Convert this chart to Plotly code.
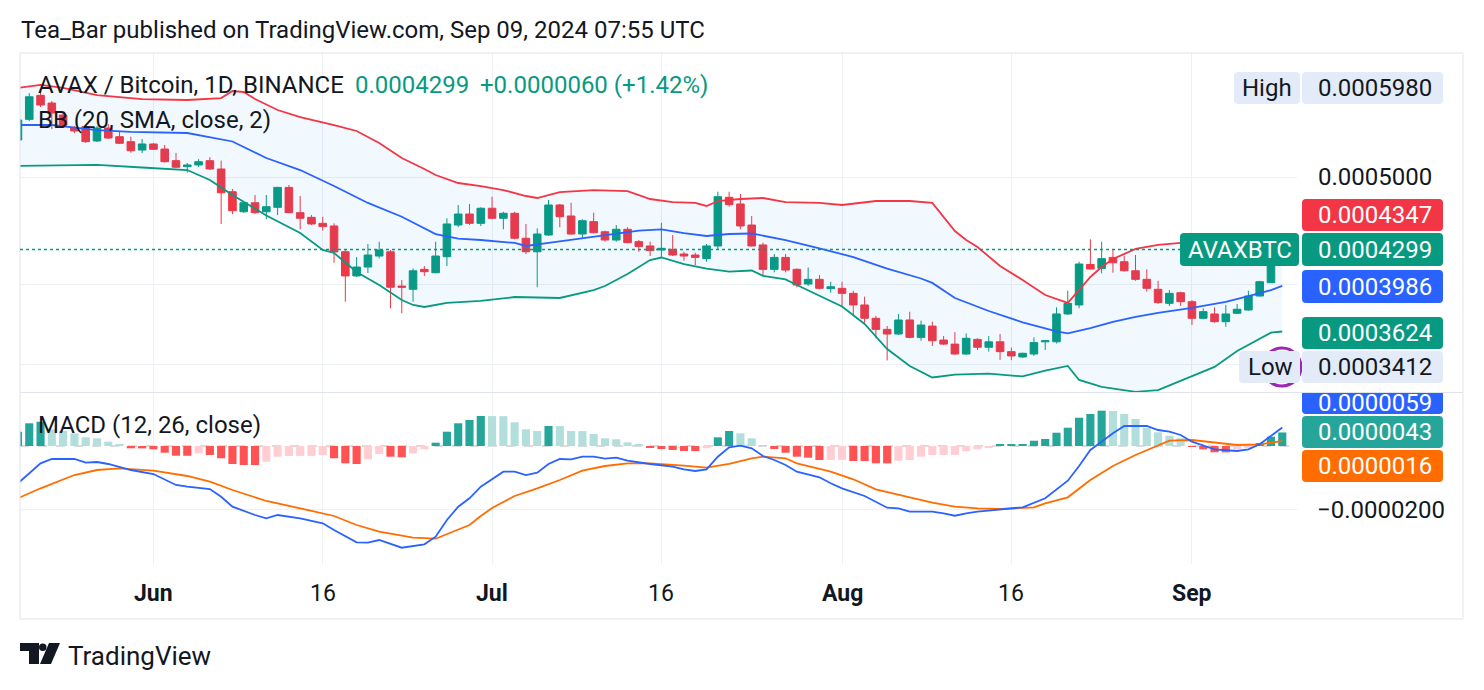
import plotly.graph_objects as go
import pandas as pd

W, H = 1484, 690
FONT = "Roboto, 'Open Sans', sans-serif"
TXT = "#131722"
UP = "#089981"
DN = "#F23645"
BLUE = "#2962FF"
ORANGE = "#FF6D00"
GRID = "#edf0f5"
BORDER = "#e0e3eb"
LIGHT = "#e3ebf8"
FS = 24

# ---------------- data ----------------
dates = pd.date_range("2024-05-20", "2024-09-09", freq="D")

open_ = [0.0005401, 0.0005638, 0.0005927, 0.0005833, 0.0005689, 0.0005537, 0.0005553, 0.0005390, 0.0005537, 0.0005438, 0.0005382, 0.0005289,
         0.0005356, 0.0005300, 0.0005173, 0.0005109, 0.0005127, 0.0005173, 0.0005084, 0.0004849, 0.0004651, 0.0004739,
         0.0004651, 0.0004694, 0.0004893, 0.0004642, 0.0004597, 0.0004540, 0.0004515, 0.0004279, 0.0004069, 0.0004145,
         0.0004241, 0.0004279, 0.0003984, 0.0003957, 0.0004125, 0.0004096, 0.0004235, 0.0004524, 0.0004629, 0.0004540,
         0.0004685, 0.0004588, 0.0004636, 0.0004401, 0.0004279, 0.0004431, 0.0004717, 0.0004610, 0.0004440, 0.0004556,
         0.0004461, 0.0004385, 0.0004484, 0.0004370, 0.0004331, 0.0004295, 0.0004301, 0.0004259, 0.0004250, 0.0004218,
         0.0004331, 0.0004793, 0.0004727, 0.0004524, 0.0004340, 0.0004125, 0.0004229, 0.0004125, 0.0004001, 0.0004040,
         0.0003962, 0.0003965, 0.0003924, 0.0003830, 0.0003725, 0.0003640, 0.0003605, 0.0003712, 0.0003580, 0.0003665,
         0.0003560, 0.0003530, 0.0003458, 0.0003565, 0.0003507, 0.0003547, 0.0003475, 0.0003437, 0.0003458, 0.0003547,
         0.0003547, 0.0003759, 0.0003830, 0.0004167, 0.0004133, 0.0004229, 0.0004191, 0.0004113, 0.0004040, 0.0003957,
         0.0003843, 0.0003929, 0.0003856, 0.0003725, 0.0003759, 0.0003699, 0.0003764, 0.0003790, 0.0003902, 0.0004012, 0.0004239]
high = [0.0005653, 0.0005955, 0.0005980, 0.0005858, 0.0005713, 0.0005560, 0.0005572, 0.0005560, 0.0005583, 0.0005491, 0.0005438, 0.0005412,
        0.0005367, 0.0005345, 0.0005256, 0.0005148, 0.0005190, 0.0005212, 0.0005173, 0.0004876, 0.0004746, 0.0004816,
        0.0004816, 0.0004899, 0.0004917, 0.0004806, 0.0004619, 0.0004603, 0.0004540, 0.0004295, 0.0004232, 0.0004349,
        0.0004369, 0.0004295, 0.0004034, 0.0004133, 0.0004153, 0.0004369, 0.0004588, 0.0004717, 0.0004727, 0.0004694,
        0.0004799, 0.0004651, 0.0004651, 0.0004534, 0.0004493, 0.0004766, 0.0004727, 0.0004739, 0.0004579, 0.0004642,
        0.0004471, 0.0004524, 0.0004503, 0.0004385, 0.0004370, 0.0004546, 0.0004431, 0.0004279, 0.0004270, 0.0004349,
        0.0004849, 0.0004849, 0.0004826, 0.0004610, 0.0004361, 0.0004259, 0.0004259, 0.0004133, 0.0004141, 0.0004077,
        0.0004020, 0.0004020, 0.0003945, 0.0003897, 0.0003744, 0.0003666, 0.0003759, 0.0003776, 0.0003707, 0.0003699,
        0.0003590, 0.0003619, 0.0003610, 0.0003573, 0.0003590, 0.0003605, 0.0003505, 0.0003467, 0.0003580, 0.0003556,
        0.0003811, 0.0003945, 0.0004191, 0.0004391, 0.0004369, 0.0004301, 0.0004241, 0.0004250, 0.0004125, 0.0004028,
        0.0003951, 0.0003937, 0.0003870, 0.0003803, 0.0003811, 0.0003830, 0.0003838, 0.0003945, 0.0004028, 0.0004250, 0.0004312]
low = [0.0005378, 0.0005618, 0.0005785, 0.0005525, 0.0005537, 0.0005480, 0.0005367, 0.0005378, 0.0005412, 0.0005356, 0.0005259, 0.0005256,
       0.0005289, 0.0005152, 0.0005095, 0.0005045, 0.0005106, 0.0005073, 0.0004534, 0.0004629, 0.0004639, 0.0004629,
       0.0004579, 0.0004619, 0.0004636, 0.0004484, 0.0004524, 0.0004471, 0.0004182, 0.0003856, 0.0004060, 0.0004094,
       0.0004220, 0.0003803, 0.0003764, 0.0003856, 0.0004069, 0.0004091, 0.0004153, 0.0004503, 0.0004524, 0.0004515,
       0.0004579, 0.0004484, 0.0004391, 0.0004259, 0.0003974, 0.0004422, 0.0004503, 0.0004435, 0.0004401, 0.0004446,
       0.0004370, 0.0004370, 0.0004355, 0.0004279, 0.0004241, 0.0004229, 0.0004241, 0.0004200, 0.0004162, 0.0004191,
       0.0004301, 0.0004700, 0.0004484, 0.0004325, 0.0004069, 0.0004099, 0.0004099, 0.0003974, 0.0003984, 0.0003957,
       0.0003929, 0.0003811, 0.0003744, 0.0003691, 0.0003573, 0.0003412, 0.0003598, 0.0003573, 0.0003555, 0.0003516,
       0.0003523, 0.0003451, 0.0003451, 0.0003487, 0.0003475, 0.0003416, 0.0003414, 0.0003430, 0.0003444, 0.0003487,
       0.0003535, 0.0003751, 0.0003804, 0.0004125, 0.0004091, 0.0004096, 0.0004105, 0.0004028, 0.0003937, 0.0003838,
       0.0003822, 0.0003822, 0.0003673, 0.0003717, 0.0003691, 0.0003660, 0.0003759, 0.0003785, 0.0003897, 0.0004009, 0.0004225]
close = [0.0005630, 0.0005910, 0.0005809, 0.0005713, 0.0005572, 0.0005503, 0.0005382, 0.0005537, 0.0005423, 0.0005364, 0.0005281, 0.0005356,
         0.0005297, 0.0005162, 0.0005103, 0.0005127, 0.0005162, 0.0005084, 0.0004838, 0.0004661, 0.0004739, 0.0004642,
         0.0004700, 0.0004893, 0.0004642, 0.0004588, 0.0004534, 0.0004509, 0.0004277, 0.0004069, 0.0004145, 0.0004250,
         0.0004295, 0.0003974, 0.0003974, 0.0004113, 0.0004105, 0.0004241, 0.0004534, 0.0004629, 0.0004540, 0.0004685,
         0.0004588, 0.0004636, 0.0004401, 0.0004279, 0.0004440, 0.0004717, 0.0004603, 0.0004440, 0.0004565, 0.0004452,
         0.0004385, 0.0004484, 0.0004361, 0.0004325, 0.0004289, 0.0004310, 0.0004250, 0.0004241, 0.0004229, 0.0004331,
         0.0004799, 0.0004720, 0.0004515, 0.0004331, 0.0004125, 0.0004229, 0.0004119, 0.0003993, 0.0004040, 0.0003965,
         0.0003978, 0.0003924, 0.0003830, 0.0003725, 0.0003640, 0.0003605, 0.0003712, 0.0003580, 0.0003673, 0.0003555,
         0.0003530, 0.0003458, 0.0003573, 0.0003507, 0.0003547, 0.0003475, 0.0003444, 0.0003463, 0.0003541, 0.0003555,
         0.0003759, 0.0003843, 0.0004171, 0.0004128, 0.0004218, 0.0004182, 0.0004113, 0.0004040, 0.0003965, 0.0003849,
         0.0003924, 0.0003856, 0.0003725, 0.0003777, 0.0003699, 0.0003759, 0.0003796, 0.0003902, 0.0004020, 0.0004239, 0.0004299]

bb_upper_dates = ["05-20", "05-22", "05-24", "05-27", "05-31", "06-04", "06-07", "06-08", "06-09", "06-10", "06-12", "06-14",
                  "06-17", "06-19", "06-21", "06-23", "06-25", "06-26", "06-28", "06-30", "07-02", "07-04", "07-05", "07-07",
                  "07-10", "07-13", "07-15", "07-17", "07-19", "07-20", "07-21", "07-23", "07-25", "07-27", "07-30", "08-01",
                  "08-04", "08-07", "08-09", "08-11", "08-12", "08-13", "08-15", "08-17", "08-19", "08-21", "08-22", "08-23",
                  "08-24", "08-25", "08-27", "08-29", "08-31", "09-02", "09-04", "09-06", "09-08", "09-09"]
bb_upper = [0.0006019, 0.0006057, 0.0006019, 0.0005931, 0.0005882, 0.0005870, 0.0005894, 0.0005981, 0.0005969, 0.0005882, 0.0005749, 0.0005665,
            0.0005572, 0.0005503, 0.0005367, 0.0005202, 0.0005084, 0.0005021, 0.0004938, 0.0004907, 0.0004866, 0.0004806, 0.0004786, 0.0004846,
            0.0004866, 0.0004856, 0.0004776, 0.0004746, 0.0004737, 0.0004707, 0.0004756, 0.0004776, 0.0004786, 0.0004746, 0.0004737, 0.0004717,
            0.0004756, 0.0004756, 0.0004737, 0.0004468, 0.0004385, 0.0004322, 0.0004154, 0.0004034, 0.0003910, 0.0003846, 0.0003951, 0.0004060,
            0.0004145, 0.0004215, 0.0004304, 0.0004340, 0.0004358, 0.0004367, 0.0004367, 0.0004367, 0.0004358, 0.0004347]

bb_basis_dates = ["05-20", "05-23", "05-27", "05-30", "06-04", "06-06", "06-08", "06-11", "06-14", "06-17", "06-20", "06-23",
                  "06-26", "06-28", "06-30", "07-03", "07-04", "07-06", "07-08", "07-11", "07-14", "07-16", "07-18", "07-20",
                  "07-22", "07-24", "07-27", "07-30", "08-02", "08-05", "08-08", "08-09", "08-11", "08-14", "08-17", "08-20",
                  "08-21", "08-23", "08-25", "08-27", "08-29", "09-01", "09-04", "09-06", "09-08", "09-09"]
bb_basis = [0.0005572, 0.0005572, 0.0005514, 0.0005494, 0.0005480, 0.0005435, 0.0005384, 0.0005202, 0.0005073, 0.0004907, 0.0004737, 0.0004603,
            0.0004440, 0.0004398, 0.0004385, 0.0004358, 0.0004331, 0.0004358, 0.0004385, 0.0004431, 0.0004472, 0.0004484, 0.0004449, 0.0004422,
            0.0004440, 0.0004445, 0.0004385, 0.0004310, 0.0004232, 0.0004132, 0.0004047, 0.0004010, 0.0003886, 0.0003782, 0.0003694, 0.0003625,
            0.0003610, 0.0003650, 0.0003697, 0.0003736, 0.0003767, 0.0003806, 0.0003854, 0.0003902, 0.0003951, 0.0003986]

bb_lower_dates = ["05-20", "05-24", "05-27", "05-31", "06-04", "06-06", "06-08", "06-11", "06-14", "06-16", "06-17", "06-19",
                  "06-21", "06-23", "06-24", "06-25", "06-27", "06-30", "07-03", "07-07", "07-10", "07-11", "07-13", "07-15",
                  "07-16", "07-18", "07-20", "07-22", "07-24", "07-25", "07-27", "07-28", "08-01", "08-03", "08-05", "08-07",
                  "08-09", "08-11", "08-14", "08-17", "08-19", "08-21", "08-22", "08-24", "08-27", "08-29", "09-01", "09-03",
                  "09-05", "09-07", "09-08", "09-09"]
bb_lower = [0.0005116, 0.0005122, 0.0005127, 0.0005100, 0.0005073, 0.0004969, 0.0004816, 0.0004615, 0.0004449, 0.0004295, 0.0004268, 0.0004102,
            0.0003993, 0.0003870, 0.0003830, 0.0003814, 0.0003846, 0.0003862, 0.0003894, 0.0003886, 0.0003951, 0.0003984, 0.0004085, 0.0004206,
            0.0004228, 0.0004171, 0.0004132, 0.0004106, 0.0004115, 0.0004069, 0.0004039, 0.0003993, 0.0003818, 0.0003681, 0.0003494, 0.0003373,
            0.0003293, 0.0003313, 0.0003320, 0.0003300, 0.0003340, 0.0003373, 0.0003276, 0.0003229, 0.0003196, 0.0003208, 0.0003300, 0.0003366,
            0.0003480, 0.0003567, 0.0003615, 0.0003624]

macd_dates = ["05-20", "05-21", "05-22", "05-23", "05-25", "05-26", "05-27", "05-28", "05-30", "06-01", "06-03", "06-04",
              "06-06", "06-07", "06-08", "06-10", "06-11", "06-12", "06-14", "06-16", "06-17", "06-19", "06-20", "06-21",
              "06-22", "06-23", "06-25", "06-26", "06-27", "06-28", "06-29", "06-30", "07-02", "07-03", "07-04", "07-05",
              "07-06", "07-07", "07-08", "07-09", "07-10", "07-11", "07-12", "07-13", "07-15", "07-17", "07-18", "07-19",
              "07-20", "07-21", "07-22", "07-23", "07-24", "07-25", "07-26", "07-27", "07-28", "07-30", "07-31", "08-01",
              "08-03", "08-05", "08-06", "08-07", "08-09", "08-10", "08-11", "08-12", "08-13", "08-15", "08-17", "08-19",
              "08-21", "08-22", "08-23", "08-25", "08-26", "08-28", "08-29", "08-30", "08-31", "09-01", "09-03", "09-05",
              "09-06", "09-07", "09-08", "09-09"]
macd_line = [-1.184e-05, -8.67e-06, -5.49e-06, -4.13e-06, -4.13e-06, -5.30e-06, -5.08e-06, -5.71e-06, -7.62e-06, -8.89e-06, -1.238e-05, -1.292e-05,
             -1.365e-05, -1.610e-05, -1.927e-05, -2.190e-05, -2.295e-05, -2.190e-05, -2.295e-05, -2.454e-05, -2.667e-05, -3.057e-05, -3.070e-05, -2.984e-05,
             -3.111e-05, -3.229e-05, -3.121e-05, -2.879e-05, -2.349e-05, -1.927e-05, -1.660e-05, -1.292e-05, -8.16e-06, -8.16e-06, -9.21e-06, -8.48e-06,
             -5.71e-06, -4.13e-06, -4.22e-06, -3.40e-06, -3.40e-06, -4.03e-06, -3.71e-06, -4.67e-06, -5.71e-06, -6.57e-06, -7.40e-06, -7.94e-06,
             -7.40e-06, -3.40e-06, -4.1e-07, 1.0e-07, -7.3e-07, -3.17e-06, -4.44e-06, -6.03e-06, -8.16e-06, -9.94e-06, -1.184e-05, -1.343e-05,
             -1.587e-05, -1.959e-05, -1.978e-05, -2.086e-05, -2.086e-05, -2.137e-05, -2.213e-05, -2.137e-05, -2.086e-05, -2.010e-05, -1.946e-05, -1.660e-05,
             -1.102e-05, -6.35e-06, -1.27e-06, 4.03e-06, 6.35e-06, 6.35e-06, 5.08e-06, 4.54e-06, 3.49e-06, 1.37e-06, -1.05e-06, -1.59e-06,
             -1.05e-06, 5.4e-07, 3.17e-06, 5.9e-06]

signal_dates = ["05-20", "05-22", "05-25", "05-27", "05-29", "06-01", "06-04", "06-06", "06-08", "06-11", "06-14", "06-17",
                "06-19", "06-21", "06-24", "06-26", "06-29", "06-30", "07-01", "07-03", "07-05", "07-07", "07-09", "07-11",
                "07-13", "07-15", "07-18", "07-20", "07-22", "07-24", "07-25", "07-27", "07-28", "07-31", "08-02", "08-04",
                "08-07", "08-09", "08-11", "08-13", "08-15", "08-18", "08-19", "08-21", "08-23", "08-25", "08-27", "08-29",
                "08-30", "09-01", "09-03", "09-05", "09-07", "09-09"]
signal_line = [-1.660e-05, -1.343e-05, -9.21e-06, -7.62e-06, -7.08e-06, -7.84e-06, -9.52e-06, -1.133e-05, -1.397e-05, -1.746e-05, -1.978e-05, -2.222e-05,
               -2.508e-05, -2.721e-05, -2.911e-05, -2.943e-05, -2.508e-05, -2.222e-05, -1.970e-05, -1.587e-05, -1.343e-05, -1.079e-05, -7.84e-06, -6.35e-06,
               -5.49e-06, -5.49e-06, -6.25e-06, -6.89e-06, -5.71e-06, -3.90e-06, -3.40e-06, -3.90e-06, -5.49e-06, -8.16e-06, -1.057e-05, -1.375e-05,
               -1.629e-05, -1.800e-05, -1.927e-05, -1.978e-05, -2.000e-05, -1.946e-05, -1.819e-05, -1.629e-05, -1.079e-05, -6.35e-06, -2.86e-06, 3.2e-07,
               1.68e-06, 1.90e-06, 1.05e-06, 3.2e-07, 5.4e-07, 1.59e-06]

macd_hist = [4.54e-06, 7.21e-06, 7.71e-06, 5.30e-06, 4.86e-06, 4.03e-06, 2.76e-06, 2.44e-06, 1.37e-06, 6.3e-07, -7.3e-07, -7.6e-07,
             -1.05e-06, -2.13e-06, -3.08e-06, -3.10e-06, -2.32e-06, -2.86e-06, -3.90e-06, -5.71e-06, -6.03e-06, -6.05e-06,
             -4.98e-06, -3.40e-06, -3.17e-06, -3.15e-06, -3.13e-06, -2.86e-06, -3.90e-06, -5.49e-06, -5.71e-06, -4.22e-06,
             -2.54e-06, -3.40e-06, -3.59e-06, -2.32e-06, -1.05e-06, 1.05e-06, 4.54e-06, 7.21e-06, 8.25e-06, 9.52e-06,
             9.50e-06, 9.48e-06, 7.52e-06, 5.30e-06, 4.76e-06, 6.35e-06, 6.33e-06, 4.76e-06, 4.74e-06, 3.81e-06,
             2.44e-06, 2.13e-06, 1.17e-06, 5.4e-07, -4.1e-07, -9.5e-07, -1.27e-06, -1.59e-06, -1.60e-06, -7.3e-07,
             2.76e-06, 4.76e-06, 4.03e-06, 2.44e-06, 1.0e-07, -9.5e-07, -2.13e-06, -3.40e-06, -3.71e-06, -4.44e-06,
             -4.42e-06, -4.40e-06, -4.76e-06, -4.78e-06, -5.49e-06, -5.51e-06, -4.67e-06, -4.44e-06, -3.40e-06, -2.86e-06,
             -2.84e-06, -2.82e-06, -1.68e-06, -1.05e-06, -3.2e-07, 3.2e-07, 3.4e-07, 6.3e-07, 1.68e-06, 2.22e-06,
             4.22e-06, 5.81e-06, 8.98e-06, 1.016e-05, 1.121e-05, 1.111e-05, 1.016e-05, 8.57e-06, 5.81e-06, 4.35e-06,
             3.27e-06, 2.44e-06, -2.2e-07, -1.05e-06, -2.00e-06, -2.02e-06, -1.05e-06, -3.2e-07, 9.5e-07, 2.95e-06, 4.30e-06]

month_ticks = ["2024-06-01", "2024-06-16", "2024-07-01", "2024-07-16", "2024-08-01", "2024-08-16", "2024-09-01"]
month_labels = ["<b>Jun</b>", "16", "<b>Jul</b>", "16", "<b>Aug</b>", "16", "<b>Sep</b>"]
price_grid = [0.0005, 0.0004, 0.000338]
macd_grid = [-0.00002]


def full(ds):
    return ["2024-" + s for s in ds]


def px(x):
    return x / W


def py(y):
    return 1 - y / H


# histogram colours (TradingView rule)
hist_colors = []
prev = None
for v in macd_hist:
    if v >= 0:
        c = "#26A69A" if (prev is None or v > prev) else "#B2DFDB"
    else:
        c = "#FF5252" if (prev is None or v < prev) else "#FFCDD2"
    hist_colors.append(c)
    prev = v

fig = go.Figure()
LW = 1.8

# Bollinger bands
fig.add_trace(go.Scatter(x=full(bb_upper_dates), y=bb_upper, mode="lines",
                         line=dict(color=DN, width=LW), hoverinfo="skip", xaxis="x", yaxis="y"))
fig.add_trace(go.Scatter(x=full(bb_lower_dates), y=bb_lower, mode="lines", fill="tonexty",
                         fillcolor="rgba(33,150,243,0.06)",
                         line=dict(color=UP, width=LW), hoverinfo="skip", xaxis="x", yaxis="y"))
fig.add_trace(go.Scatter(x=full(bb_basis_dates), y=bb_basis, mode="lines",
                         line=dict(color=BLUE, width=LW), hoverinfo="skip", xaxis="x", yaxis="y"))

# candles
fig.add_trace(go.Candlestick(x=dates, open=open_, high=high, low=low, close=close,
                             increasing=dict(line=dict(color=UP, width=1), fillcolor=UP),
                             decreasing=dict(line=dict(color=DN, width=1), fillcolor=DN),
                             whiskerwidth=0, hoverinfo="skip", xaxis="x", yaxis="y"))

# MACD
fig.add_trace(go.Bar(x=dates, y=macd_hist, marker=dict(color=hist_colors, line=dict(width=0)),
                     hoverinfo="skip", xaxis="x2", yaxis="y2"))
fig.add_trace(go.Scatter(x=full(signal_dates), y=signal_line, mode="lines",
                         line=dict(color=ORANGE, width=LW), hoverinfo="skip", xaxis="x2", yaxis="y2"))
fig.add_trace(go.Scatter(x=full(macd_dates), y=macd_line, mode="lines",
                         line=dict(color=BLUE, width=LW), hoverinfo="skip", xaxis="x2", yaxis="y2"))

xr = ["2024-05-20 04:20", "2024-09-10 07:20"]
xdom = [px(20), px(1297)]
axis_common = dict(type="date", range=xr, domain=xdom, tickvals=month_ticks, showticklabels=False,
                   showgrid=True, gridcolor=GRID, gridwidth=1, zeroline=False, showline=False,
                   ticks="", fixedrange=True)

fig.update_layout(
    width=W, height=H, margin=dict(l=0, r=0, t=0, b=0),
    paper_bgcolor="white", plot_bgcolor="white",
    showlegend=False, hovermode=False,
    boxgap=0.18, boxgroupgap=0.18, bargap=0.28,
    font=dict(family=FONT, color=TXT, size=FS),
    xaxis=dict(axis_common, anchor="y", rangeslider=dict(visible=False)),
    xaxis2=dict(axis_common, anchor="y2", matches="x"),
    yaxis=dict(type="log", domain=[py(392), py(53)], range=[-3.49555, -3.18883],
               tickvals=price_grid, showticklabels=False, showgrid=True, gridcolor=GRID,
               zeroline=False, showline=False, ticks="", fixedrange=True),
    yaxis2=dict(domain=[py(564), py(393)], range=[-3.746e-05, 1.6825e-05],
                tickvals=macd_grid, showticklabels=False, showgrid=True, gridcolor=GRID,
                zeroline=False, showline=False, ticks="", fixedrange=True),
)

shapes = []


def hline(y, x0=20, x1=1463, color=BORDER, width=1):
    shapes.append(dict(type="line", xref="paper", yref="paper", x0=px(x0), x1=px(x1),
                       y0=py(y), y1=py(y), line=dict(color=color, width=width), layer="above"))


def vline(x, y0, y1, color=BORDER, width=1):
    shapes.append(dict(type="line", xref="paper", yref="paper", x0=px(x), x1=px(x),
                       y0=py(y0), y1=py(y1), line=dict(color=color, width=width), layer="above"))


def rrect(x0, y0, x1, y1, color, r=4, top_round=True):
    rt = r if top_round else 0
    pts = (f"M {px(x0 + rt)},{py(y0)} L {px(x1 - rt)},{py(y0)} Q {px(x1)},{py(y0)} {px(x1)},{py(y0 + rt)} "
           f"L {px(x1)},{py(y1 - r)} Q {px(x1)},{py(y1)} {px(x1 - r)},{py(y1)} "
           f"L {px(x0 + r)},{py(y1)} Q {px(x0)},{py(y1)} {px(x0)},{py(y1 - r)} "
           f"L {px(x0)},{py(y0 + rt)} Q {px(x0)},{py(y0)} {px(x0 + rt)},{py(y0)} Z")
    shapes.append(dict(type="path", xref="paper", yref="paper", path=pts,
                       fillcolor=color, line=dict(width=0), layer="above"))


# chart frame
hline(53)
hline(392.5)
hline(619)
vline(20, 53, 619)
vline(1463, 53, 619)

# MACD zero line
shapes.append(dict(type="line", xref="x2 domain", yref="y2", x0=0, x1=1, y0=0, y1=0,
                   line=dict(color="rgba(120,123,134,0.55)", width=1, dash="dash"), layer="below"))
# last price line
shapes.append(dict(type="line", xref="x domain", yref="y", x0=0, x1=1, y0=close[-1], y1=close[-1],
                   line=dict(color=UP, width=1.5, dash="dot"), layer="above"))
# purple marker ring
shapes.append(dict(type="circle", xref="paper", yref="paper", x0=px(1263), x1=px(1301),
                   y0=py(386), y1=py(348), line=dict(color="#9c27b0", width=3), layer="above"))

# price scale label boxes
rrect(1234, 72, 1300, 104, LIGHT)
rrect(1302, 72, 1443, 104, LIGHT)
rrect(1302, 199, 1443, 231, DN)
rrect(1180, 233, 1299, 266, UP)
rrect(1302, 233, 1443, 266, UP)
rrect(1302, 270, 1443, 303, BLUE)
rrect(1302, 317, 1443, 349, UP)
rrect(1239, 351, 1300, 383, LIGHT)
rrect(1302, 351, 1443, 383, LIGHT)
rrect(1302, 393, 1443, 414, BLUE, top_round=False)
rrect(1302, 416, 1443, 448, "#26A69A")
rrect(1302, 450, 1443, 482, ORANGE)

# TradingView logo
logo1 = [(20, 643), (39, 643), (39, 664), (29, 664), (29, 651), (20, 651)]
logo3 = [(49, 643), (60, 643), (51, 664), (40, 664)]
for poly in (logo1, logo3):
    p = "M " + " L ".join(f"{px(a)},{py(b)}" for a, b in poly) + " Z"
    shapes.append(dict(type="path", xref="paper", yref="paper", path=p,
                       fillcolor=TXT, line=dict(width=0)))
shapes.append(dict(type="circle", xref="paper", yref="paper", x0=px(39), x1=px(46.5),
                   y0=py(651), y1=py(643.5), fillcolor=TXT, line=dict(width=0)))

fig.update_layout(shapes=shapes)


def text(t, x, y, size=FS, color=TXT, anchor="left", xref="paper"):
    fig.add_annotation(text=t, x=(px(x) if xref == "paper" else x), y=py(y), xref=xref, yref="paper",
                       showarrow=False, xanchor=anchor, yanchor="middle",
                       font=dict(size=size, color=color, family=FONT))


fmt = lambda v: f"{v:.7f}"
chg = close[-1] - close[-2]
pct = chg / close[-2] * 100

text("Tea_Bar published on TradingView.com, Sep 09, 2024 07:55 UTC", 19, 30)
text("AVAX / Bitcoin, 1D, BINANCE", 36, 85)
text(fmt(close[-1]), 353, 85, color=UP)
text(f"+{chg:.7f} (+{pct:.2f}%)", 478, 85, color=UP)
text("BB (20, SMA, close, 2)", 36, 120)
text("MACD (12, 26, close)", 36, 425)
text("TradingView", 66, 656, size=26)

# time axis labels
for d, lab in zip(month_ticks, month_labels):
    text(lab, d, 593, size=23, anchor="center", xref="x2")

# price labels
text("High", 1267, 88, anchor="center")
text(fmt(max(high)), 1375, 88, anchor="center")
text(fmt(price_grid[0]), 1375, 177, anchor="center")
text(fmt(bb_upper[-1]), 1375, 215, color="white", anchor="center")
text("AVAXBTC", 1240, 249.5, color="white", anchor="center")
text(fmt(close[-1]), 1375, 249.5, color="white", anchor="center")
text(fmt(bb_basis[-1]), 1375, 287, color="white", anchor="center")
text(fmt(bb_lower[-1]), 1375, 333, color="white", anchor="center")
text("Low", 1270, 367, anchor="center")
text(fmt(min(low)), 1375, 367, anchor="center")
text(fmt(macd_line[-1]), 1375, 403, color="white", anchor="center")
text(fmt(macd_hist[-1]), 1375, 432, color="white", anchor="center")
text(fmt(signal_line[-1]), 1375, 466, color="white", anchor="center")
text("\u2212" + fmt(abs(macd_grid[0])), 1381, 510, anchor="center")

fig.write_html("out.html")
